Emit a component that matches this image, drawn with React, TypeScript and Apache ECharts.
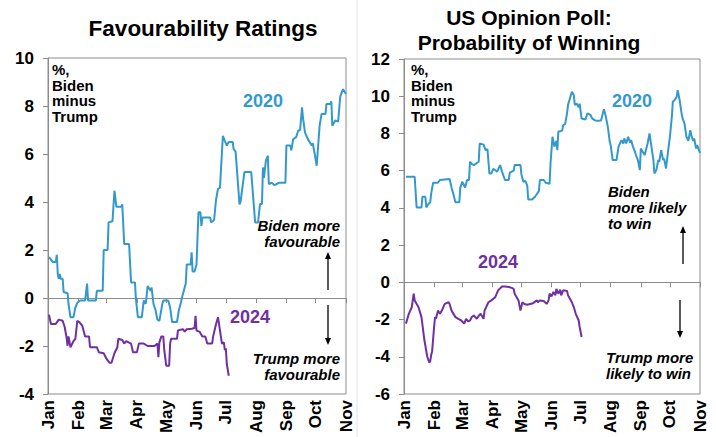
import React, { useEffect, useRef } from 'react';
import * as echarts from 'echarts';

// Month labels and the day-of-year on which each month starts (Jan 1 = day 0)
const months = ['Jan', 'Feb', 'Mar', 'Apr', 'May', 'Jun', 'Jul', 'Aug', 'Sep', 'Oct', 'Nov'];
const monthStartDays = [0, 31, 60, 91, 121, 152, 182, 213, 244, 274, 305];

// Favourability: Biden minus Trump, % ([day of year, value])
const fav2020: [number, number][] = [
  [1, 1.7], [5, 1.5], [8, 1.5], [9, 1.8], [10, 1.0], [11, 0.8], [12, 1.0], [13, 0.8], [15, 0.8], [16, 0.25],
  [20, 0.2], [21, -0.25], [23, -0.8], [26, -0.8], [28, -0.4], [30, -0.2], [33, -0.1], [38, -0.1], [40, 0.6],
  [41, -0.1], [49, -0.1], [50, 0.3], [56, 0.3], [57, 2.0], [61, 2.0], [62, 3.15], [66, 3.2], [68, 4.47],
  [70, 3.8], [75, 3.8], [76, 3.9], [78, 2.25], [83, 2.25], [85, 0.65], [89, 0.65], [90, -0.05], [92, -0.8],
  [96, -0.8], [98, -0.1], [100, -0.25], [102, 0.5], [105, 0.3], [106, 0.44], [108, -0.25], [110, -0.5],
  [112, -0.9], [114, -0.95], [117, -0.25], [118, -0.1], [123, -0.1], [125, -0.4], [127, -1.0], [132, -1.0],
  [134, -0.5], [136, -0.2], [137, 0.0], [139, 0.3], [141, 0.6], [142, 1.4], [146, 1.4], [147, 1.9],
  [148, 1.1], [150, 1.1], [152, 1.4], [154, 3.57], [156, 3.57], [157, 3.0], [158, 3.35], [166, 3.35],
  [167, 3.15], [170, 3.25], [172, 4.1], [174, 4.55], [176, 4.6], [179, 6.76], [181, 6.55], [183, 6.35],
  [185, 6.5], [189, 6.5], [190, 6.2], [192, 6.1], [194, 5.0], [196, 3.9], [197, 4.0], [199, 4.6],
  [201, 5.25], [208, 5.25], [210, 4.2], [212, 3.15], [215, 3.15], [217, 3.92], [219, 3.92], [220, 5.44],
  [221, 5.0], [223, 5.72], [225, 5.93], [226, 4.75], [229, 4.8], [232, 4.7], [236, 4.8], [243, 4.8],
  [244, 6.35], [248, 6.35], [249, 6.15], [251, 6.62], [254, 6.7], [256, 6.97], [258, 7.0], [260, 7.94],
  [261, 7.5], [263, 6.9], [266, 6.62], [270, 6.35], [271, 6.45], [273, 6.0], [275, 5.51], [277, 6.62],
  [278, 7.18], [280, 7.67], [284, 7.67], [285, 8.08], [289, 8.08], [290, 8.2], [291, 7.18], [294, 7.4],
  [297, 7.35], [299, 8.36], [300, 8.5], [302, 8.7], [305, 8.5],
];
const fav2024: [number, number][] = [
  [1, -0.7], [3, -1.08], [8, -1.08], [11, -0.9], [15, -0.95], [17, -1.2], [19, -1.64], [20, -1.99],
  [21, -1.6], [23, -2.05], [26, -1.8], [28, -1.7], [30, -0.95], [32, -1.0], [35, -1.15], [38, -1.6],
  [42, -1.6], [43, -2.05], [50, -2.05], [52, -2.26], [57, -2.3], [60, -2.54], [63, -2.7], [65, -2.7],
  [68, -2.3], [71, -2.05], [72, -1.7], [76, -1.75], [78, -1.9], [80, -1.8], [85, -1.9], [87, -2.26],
  [91, -2.26], [93, -1.9], [98, -1.9], [102, -2.0], [109, -2.0], [112, -1.9], [113, -2.47], [114, -1.85],
  [116, -1.6], [118, -1.6], [119, -2.17], [121, -2.82], [124, -2.82], [125, -1.9], [126, -1.7], [132, -1.7],
  [133, -1.35], [138, -1.3], [140, -1.4], [142, -1.3], [147, -1.28], [150, -1.25], [151, -0.74], [152, -1.36],
  [155, -1.4], [158, -1.6], [161, -1.6], [163, -1.9], [168, -1.9], [169, -1.6], [172, -1.08], [174, -0.8],
  [176, -1.35], [178, -1.9], [180, -1.85], [181, -2.17], [182, -2.1], [183, -2.75], [185, -3.24],
];

// Probability of winning: Biden minus Trump, % ([day of year, value])
const win2020: [number, number][] = [
  [2, 5.67], [11, 5.67], [13, 4.02], [18, 4.02], [19, 4.6], [22, 4.6], [23, 4.02], [25, 4.2], [27, 4.3],
  [28, 4.77], [30, 5.35], [35, 5.35], [37, 5.5], [47, 5.55], [49, 5.1], [51, 4.7], [53, 4.3], [57, 4.3],
  [58, 5.1], [60, 5.4], [63, 5.1], [65, 5.5], [67, 5.5], [68, 6.48], [70, 6.35], [72, 6.3], [77, 6.48],
  [78, 7.46], [82, 7.4], [84, 7.1], [86, 7.15], [88, 5.85], [90, 5.85], [92, 6.1], [96, 5.95], [99, 6.3],
  [101, 5.95], [104, 5.5], [108, 5.5], [109, 5.9], [113, 6.0], [114, 6.3], [120, 6.3], [121, 5.8],
  [123, 5.4], [125, 5.45], [127, 5.2], [128, 4.45], [132, 4.45], [135, 4.6], [139, 4.9], [140, 5.5],
  [144, 5.5], [146, 5.35], [150, 5.3], [151, 6.4], [153, 7.82], [155, 7.3], [157, 7.6], [158, 7.1],
  [159, 8.09], [163, 8.15], [164, 8.45], [166, 8.5], [168, 9.08], [169, 9.53], [171, 9.89], [173, 10.24],
  [175, 10.05], [176, 9.53], [178, 9.6], [180, 9.4], [181, 9.6], [183, 8.8], [187, 8.75], [189, 9.08],
  [192, 9.0], [194, 8.8], [197, 8.7], [200, 8.68], [203, 8.7], [206, 9.3], [208, 8.9], [210, 8.36],
  [212, 7.55], [213, 7.37], [215, 6.57], [219, 6.57], [221, 7.28], [224, 7.64], [226, 7.46], [227, 7.73],
  [229, 7.46], [231, 7.82], [233, 7.5], [234, 7.64], [236, 7.28], [238, 7.01], [239, 6.84], [241, 6.57],
  [243, 6.03], [244, 7.19], [246, 7.01], [248, 6.84], [251, 7.46], [253, 8.0], [255, 7.28], [257, 6.57],
  [258, 5.85], [260, 6.03], [262, 6.57], [263, 6.48], [265, 7.1], [267, 6.57], [268, 6.65], [270, 6.12],
  [272, 7.01], [274, 7.82], [276, 8.9], [277, 9.7], [279, 9.8], [281, 9.97], [282, 10.33], [284, 9.8],
  [286, 9.08], [287, 8.81], [289, 8.54], [291, 7.82], [293, 7.6], [295, 8.18], [296, 7.91], [298, 7.6],
  [299, 7.73], [301, 7.19], [302, 7.37], [305, 6.95],
];
const win2024: [number, number][] = [
  [2, -2.22], [5, -1.69], [8, -1.34], [10, -0.61], [11, -0.97], [15, -1.34], [18, -1.87], [21, -3.1],
  [24, -4.0], [26, -4.3], [27, -4.25], [28, -3.9], [29, -3.7], [31, -2.4], [32, -1.87], [33, -1.95],
  [35, -1.52], [37, -1.69], [39, -1.52], [42, -1.16], [46, -1.07], [47, -1.16], [49, -1.52], [53, -1.87],
  [56, -1.96], [59, -2.05], [62, -2.22], [64, -1.96], [66, -2.1], [68, -2.05], [70, -1.85], [72, -1.78],
  [75, -1.96], [77, -1.8], [79, -1.69], [82, -1.96], [83, -1.52], [87, -1.07], [90, -0.97], [94, -0.8],
  [97, -0.43], [101, -0.22], [104, -0.22], [108, -0.25], [111, -0.3], [113, -0.35], [114, -0.61],
  [118, -0.97], [120, -1.52], [122, -1.07], [124, -1.16], [127, -1.2], [130, -1.16], [133, -1.12],
  [137, -0.97], [138, -1.07], [140, -0.97], [144, -1.0], [147, -1.16], [149, -0.97], [150, -0.61],
  [152, -0.75], [154, -0.52], [156, -0.7], [157, -0.35], [159, -0.61], [161, -0.4], [162, -0.7],
  [164, -0.43], [168, -0.47], [169, -0.7], [171, -0.88], [173, -1.07], [175, -1.34], [177, -1.69],
  [180, -2.05], [181, -2.4], [183, -2.94],
];

// Annotation texts
const unitLines = ['%,', 'Biden', 'minus', 'Trump'];

const BLUE = '#3399cc';
const PURPLE = '#7030a0';
const AXIS = '#8c8c8c';
const FONT = 'Arial, "Liberation Sans", sans-serif';

function tickAxis(grid: number) {
  return {
    gridIndex: grid, type: 'value', min: 0, max: 305, position: 'bottom',
    axisLine: { show: true, onZero: true, lineStyle: { color: AXIS, width: 1 } },
    axisTick: { show: true, customValues: monthStartDays, length: 5, lineStyle: { color: AXIS } },
    axisLabel: { show: false }, splitLine: { show: false },
  };
}
function labelAxis(grid: number) {
  return {
    gridIndex: grid, type: 'value', min: 0, max: 305, position: 'bottom',
    axisLine: { show: false, onZero: false }, axisTick: { show: false }, splitLine: { show: false },
    axisLabel: {
      customValues: monthStartDays,
      formatter: (v: number) => months[monthStartDays.indexOf(v)] ?? '',
      rotate: 90, margin: 6, fontSize: 17, fontWeight: 'bold', color: '#000', fontFamily: FONT,
    },
  };
}
function yAxis(grid: number, min: number, max: number) {
  return {
    gridIndex: grid, type: 'value', min, max, interval: 2,
    axisLine: { show: true, lineStyle: { color: AXIS } },
    axisTick: { show: true, length: 5, lineStyle: { color: AXIS } },
    splitLine: { show: false },
    axisLabel: { margin: 14, fontSize: 17, fontWeight: 'bold', color: '#000', fontFamily: FONT },
  };
}
function line(data: [number, number][], color: string, xi: number, yi: number) {
  return {
    type: 'line', data, xAxisIndex: xi, yAxisIndex: yi, showSymbol: false, symbol: 'none',
    lineStyle: { color, width: 2 }, itemStyle: { color }, z: 3,
  };
}
function txt(text: string, x: number, y: number, opts: any = {}) {
  return {
    type: 'text', x, y, z: 10,
    style: {
      text, fill: opts.fill ?? '#000',
      font: `${opts.italic ? 'italic ' : ''}bold ${opts.size ?? 15}px ${FONT}`,
      textAlign: opts.align ?? 'left', textVerticalAlign: 'top', lineHeight: opts.lh ?? 16,
    },
  };
}
function stack(lines: string[], x: number, y: number, step: number, opts: any = {}) {
  return lines.map((l, i) => txt(l, x, y + i * step, opts));
}
function arrow(x: number, y1: number, y2: number) {
  const dir = y2 < y1 ? 1 : -1;
  return [
    { type: 'line', z: 10, shape: { x1: x, y1, x2: x, y2: y2 + dir * 5 }, style: { stroke: '#000', lineWidth: 1.3 } },
    { type: 'polygon', z: 10, shape: { points: [[x, y2], [x - 3, y2 + dir * 7], [x + 3, y2 + dir * 7]] }, style: { fill: '#000' } },
  ];
}

export default function App() {
  const ref = useRef<HTMLDivElement>(null);
  useEffect(() => {
    const chart = echarts.init(ref.current!, null, { renderer: 'svg' });
    chart.setOption({
      animation: false,
      backgroundColor: '#fff',
      grid: [
        { left: 48, right: 370, top: 58, bottom: 43, show: true, borderColor: AXIS, borderWidth: 1, containLabel: false },
        { left: 404, right: 16, top: 59, bottom: 43, show: true, borderColor: AXIS, borderWidth: 1, containLabel: false },
      ],
      xAxis: [tickAxis(0), labelAxis(0), tickAxis(1), labelAxis(1)],
      yAxis: [yAxis(0, -4, 10), yAxis(1, -6, 12)],
      series: [
        line(fav2020, BLUE, 0, 0),
        line(fav2024, PURPLE, 0, 0),
        line(win2020, BLUE, 2, 1),
        line(win2024, PURPLE, 2, 1),
      ],
      graphic: [
        { type: 'line', shape: { x1: 357, y1: 0, x2: 357, y2: 437 }, style: { stroke: '#e4e4e4', lineWidth: 1 } },
        txt('Favourability Ratings', 203, 16, { size: 22.5, align: 'center', lh: 24 }),
        txt('US Opinion Poll:', 529, 6, { size: 21, align: 'center', lh: 22 }),
        txt('Probability of Winning', 529, 31, { size: 21, align: 'center', lh: 22 }),
        ...stack(unitLines, 52, 62, 15.5, { size: 15, lh: 15 }),
        ...stack(unitLines, 411, 62, 15.5, { size: 15, lh: 15 }),
        txt('2020', 243, 93, { size: 18, fill: BLUE }),
        txt('2024', 230, 309, { size: 18, fill: PURPLE }),
        txt('2020', 612, 93, { size: 18, fill: BLUE }),
        txt('2024', 478, 254, { size: 18, fill: PURPLE }),
        txt('Biden more\nfavourable', 340, 217, { italic: true, align: 'right', lh: 16.5 }),
        txt('Trump more\nfavourable', 340, 350, { italic: true, align: 'right', lh: 16.5 }),
        txt('Biden\nmore likely\nto win', 608, 183, { italic: true, lh: 16 }),
        txt('Trump more\nlikely to win', 606, 349, { italic: true, lh: 16.5 }),
        ...arrow(328, 290, 252),
        ...arrow(328, 305, 345),
        ...arrow(683, 264, 226),
        ...arrow(680, 300, 338),
      ],
    });
    return () => chart.dispose();
  }, []);
  return (
    <div
      ref={ref}
      style={{ position: 'fixed', left: 0, top: 0, width: 716, height: 437, background: '#fff' }}
    />
  );
}
